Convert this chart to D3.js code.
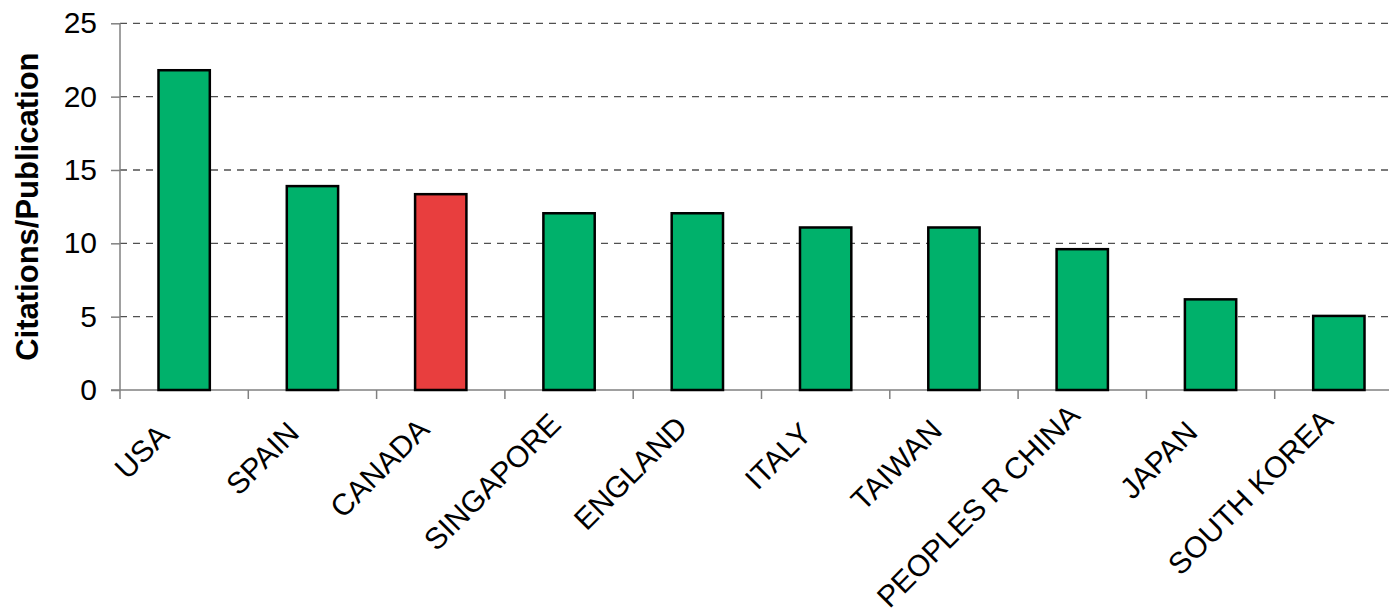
<!DOCTYPE html>
<html><head><meta charset="utf-8">
<script src="https://cdn.jsdelivr.net/npm/d3@7"></script>
<style>body{margin:0;background:#fff}svg{display:block}</style>
</head><body>
<svg id="c" width="1389" height="613"></svg>
<script>
const categories = ["USA","SPAIN","CANADA","SINGAPORE","ENGLAND","ITALY","TAIWAN","PEOPLES R CHINA","JAPAN","SOUTH KOREA"];
const values = [21.8, 13.9, 13.35, 12.05, 12.05, 11.08, 11.08, 9.6, 6.18, 5.05];
const highlight = ["CANADA"];
const yTicks = [0,5,10,15,20,25];
const yLabel = "Citations/Publication";

(function(){
const svg = d3.select("#c");
const mLeft = 120, mRight = 1403, mTop = 23.3, mBottom = 390;
const x = d3.scaleBand().domain(categories).range([mLeft, mRight]).paddingInner(0.6).paddingOuter(0.3);
const y = d3.scaleLinear().domain([0,25]).range([mBottom, mTop]);
const font = "'Liberation Sans', Arial, sans-serif";

// gridlines
svg.append("g").selectAll("line").data(yTicks.filter(d=>d>0)).join("line")
  .attr("x1", mLeft).attr("x2", 1389).attr("y1", d=>y(d)).attr("y2", d=>y(d))
  .attr("stroke", "#505050").attr("stroke-width", 1.3).attr("stroke-dasharray", "7,6");

// y axis
const ya = svg.append("g").attr("transform", `translate(${mLeft},0)`)
  .call(d3.axisLeft(y).tickValues(yTicks).tickSize(9).tickPadding(14));
ya.select(".domain").attr("stroke", "#808080").attr("stroke-width", 1.5).attr("d", `M0,${mBottom}V${mTop}`);
ya.selectAll(".tick line").attr("stroke", "#808080").attr("stroke-width", 1.5);
ya.selectAll(".tick text").attr("font-family", font).attr("font-size", 30).attr("fill", "#000");

// x axis
const step = x.step();
const bounds = d3.range(categories.length + 1).map(i => mLeft + i * step);
svg.append("line").attr("x1", mLeft - 9).attr("x2", 1389).attr("y1", mBottom).attr("y2", mBottom)
  .attr("stroke", "#808080").attr("stroke-width", 1.5);
svg.append("g").selectAll("line").data(bounds).join("line")
  .attr("x1", d=>d).attr("x2", d=>d).attr("y1", mBottom).attr("y2", mBottom + 9)
  .attr("stroke", "#808080").attr("stroke-width", 1.5);

// bars
svg.append("g").selectAll("rect").data(categories).join("rect")
  .attr("x", d=>x(d)).attr("width", x.bandwidth())
  .attr("y", (d,i)=>y(values[i])).attr("height", (d,i)=>mBottom - y(values[i]))
  .attr("fill", d=>highlight.includes(d) ? "#E83E3E" : "#00B16B")
  .attr("stroke", "#000").attr("stroke-width", 2.5);

// category labels
svg.append("g").selectAll("text").data(categories).join("text")
  .attr("text-anchor", "end")
  .attr("font-family", font).attr("font-size", 30).attr("fill", "#000")
  .text(d=>d)
  .each(function(d){
    const L = this.getComputedTextLength();
    const cx = x(d) + x.bandwidth()/2;
    d3.select(this).attr("transform", `translate(${cx - 17 + 0.06 * L},${443 - 0.095 * L}) rotate(-45)`);
  });

// y label
svg.append("text").attr("transform", `translate(38,${(mTop+mBottom)/2}) rotate(-90)`)
  .attr("text-anchor", "middle").attr("font-family", font).attr("font-weight", "bold")
  .attr("font-size", 31).text(yLabel);
})();
</script>
</body></html>
